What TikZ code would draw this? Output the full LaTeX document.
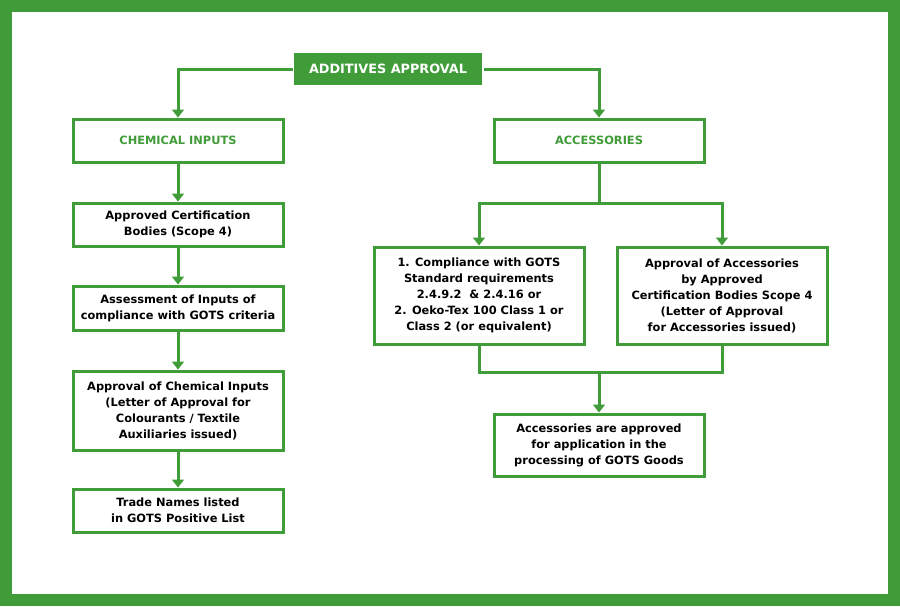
\documentclass[tikz,border=0pt]{standalone}
\usepackage{fontspec}
\setmainfont{DejaVu Sans}
\usetikzlibrary{arrows.meta}
\definecolor{gotsgreen}{RGB}{64,156,56}

\begin{document}
\begin{tikzpicture}[x=1pt, y=-1pt, >={Triangle[width=12pt,length=8pt]},
	line width=3pt, draw=gotsgreen,
	box/.style={draw=gotsgreen, line width=3pt, fill=white, minimum width=210pt,
		align=center, inner sep=2pt, font=\fontsize{11.4}{16}\selectfont\bfseries},
	headbox/.style={fill=gotsgreen, text=white, minimum width=188pt, minimum height=32pt,
		inner sep=2pt, font=\fontsize{12.8}{16}\selectfont\bfseries},
	sectbox/.style={box, minimum height=43pt, text=gotsgreen},
	link/.style={draw=gotsgreen, line width=3pt}]
	% Frame
	\useasboundingbox (0,0) rectangle (900,606);
	\draw [gotsgreen, line width=12pt] (6,6) rectangle (894,600);

	% Nodes {add, chem, acc, etc}
	\node [headbox] 			(add)  at (388,69)  {ADDITIVES APPROVAL};
	\node [sectbox] 			(chem) at (178,140.5) {CHEMICAL INPUTS};
	\node [sectbox] 			(acc)  at (599,140.5) {ACCESSORIES};
	\node [box, minimum height=43pt]	(acb)  [below of=chem, node distance=84pt]
	{Approved Certification\\Bodies (Scope 4)};
	\node [box, minimum height=44pt]	(assess) [below of=acb, node distance=83.5pt]
	{Assessment of Inputs of\\compliance with GOTS criteria};
	\node [box, minimum height=79pt]	(apprci) [below of=assess, node distance=102.5pt]
	{Approval of Chemical Inputs\\(Letter of Approval for\\Colourants / Textile\\ Auxiliaries issued)};
	\node [box, minimum height=43pt]	(trade) [below of=apprci, node distance=100pt]
	{Trade Names listed\\ in GOTS Positive List};
	\node [box, minimum height=97pt]	(comp) at (479,295.5)
	{1. Compliance with GOTS\\ Standard requirements\\2.4.9.2 \ \& 2.4.16 or\\2. Oeko-Tex 100 Class 1 or\\Class 2 (or equivalent)};
	\node [box, minimum height=97pt]	(apprac) at (722,295.5)
	{Approval of Accessories\\by Approved\\Certification Bodies Scope 4\\(Letter of Approval\\for Accessories issued)};
	\node [box, minimum height=62pt]	(final) at (599,445)
	{Accessories are approved\\for application in the\\processing of GOTS Goods};
	\coordinate (split) at (599,203);
	\coordinate (merge) at (599,372);

	% Paths
	\draw [link, ->] (add.west) -| (chem.north);
	\draw [link, ->] (add.east) -| (acc.north);
	\path [link, ->] (chem) edge (acb);
	\path [link, ->] (acb) edge (assess);
	\path [link, ->] (assess) edge (apprci);
	\path [link, ->] (apprci) edge (trade);

	\draw [link] (acc.south) -- (split);
	\draw [link, ->] (split) -| (comp.north);
	\draw [link, ->] (split) -| (apprac.north);
	\draw [link] (comp.south) |- (merge);
	\draw [link] (apprac.south) |- (merge);
	\draw [link, ->] (merge) -- (final.north);
\end{tikzpicture}
\end{document}
